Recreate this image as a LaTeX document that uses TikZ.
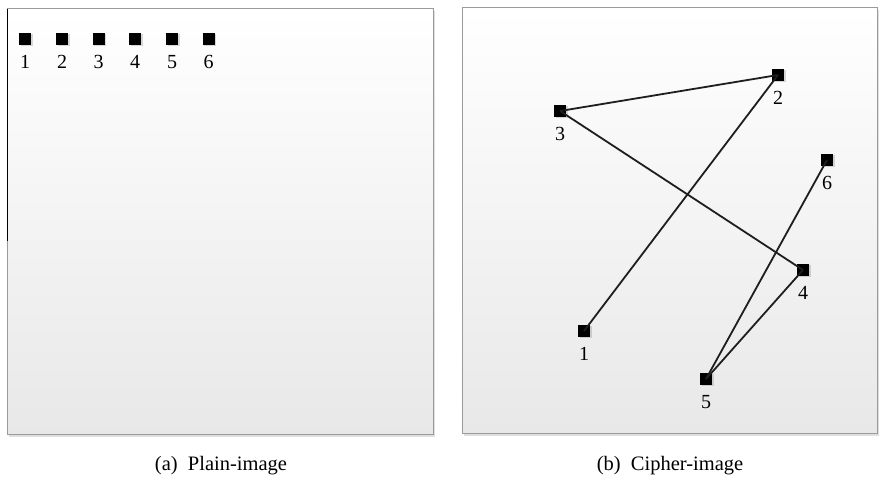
\documentclass[tikz,border=0pt]{standalone}
\usepackage{fontspec}
\setmainfont{Liberation Serif}
\usepackage{xcolor}
\usetikzlibrary{shadows}

\definecolor{edgegray}{HTML}{1E1E1E}
\definecolor{panelline}{HTML}{9A9A9A}
\definecolor{panelbot}{HTML}{E8E8E8}

\begin{document}
\begin{tikzpicture}[
    x=1pt, y=-1pt,
    panel/.style={draw=panelline, line width=1pt, top color=white, bottom color=panelbot,
        drop shadow={shadow xshift=1.5pt, shadow yshift=-2pt, opacity=.25}},
    pixel/.style={rectangle, fill=black, minimum size=12pt, inner sep=0pt,
        drop shadow={shadow xshift=1.5pt, shadow yshift=-1.5pt, opacity=.3}},
    lbl/.style={inner sep=0pt, label distance=10pt, font=\fontsize{20}{22}\selectfont},
    edge/.style={draw=edgegray, line width=1.8pt},
    caption/.style={font=\fontsize{20.5}{24}\selectfont}
]
    \useasboundingbox (0,0) rectangle (879,478);

    % the two frames
    \path[panel] (7.5,9) rectangle (433,435);
    \path[panel] (462,8) rectangle (877,434);
    \draw[black, line width=1.4pt] (7.5,9) -- (7.5,241);

    % plain-image: pixels in a row
    \foreach \i/\x in {1/25, 2/62, 3/98.5, 4/135, 5/172, 6/208.5}
        \node[pixel, label={[lbl]below:\i}] (p\i) at (\x,39) {};

    % cipher-image: scrambled pixels
    \node[pixel, label={[lbl]below:1}] (c1) at (584,331) {};
    \node[pixel, label={[lbl]below:2}] (c2) at (778,75) {};
    \node[pixel, label={[lbl]below:3}] (c3) at (560,111) {};
    \node[pixel, label={[lbl]below:4}] (c4) at (803,270) {};
    \node[pixel, label={[lbl]below:5}] (c5) at (706,379) {};
    \node[pixel, label={[lbl]below:6}] (c6) at (827,160) {};

    % links between the moved pixels
    \draw[edge] (c3.center) -- (c2.center);
    \draw[edge] (c3.center) -- (c4.center);
    \draw[edge] (c2.center) -- (c1.center);
    \draw[edge] (c6.center) -- (c5.center);
    \draw[edge] (c4.center) -- (c5.center);

    % captions
    \node[caption] (capa) at (221,466) {(a)\enspace Plain-image};
    \node[caption] (capb) at (670,466) {(b)\enspace Cipher-image};
\end{tikzpicture}
\end{document}
